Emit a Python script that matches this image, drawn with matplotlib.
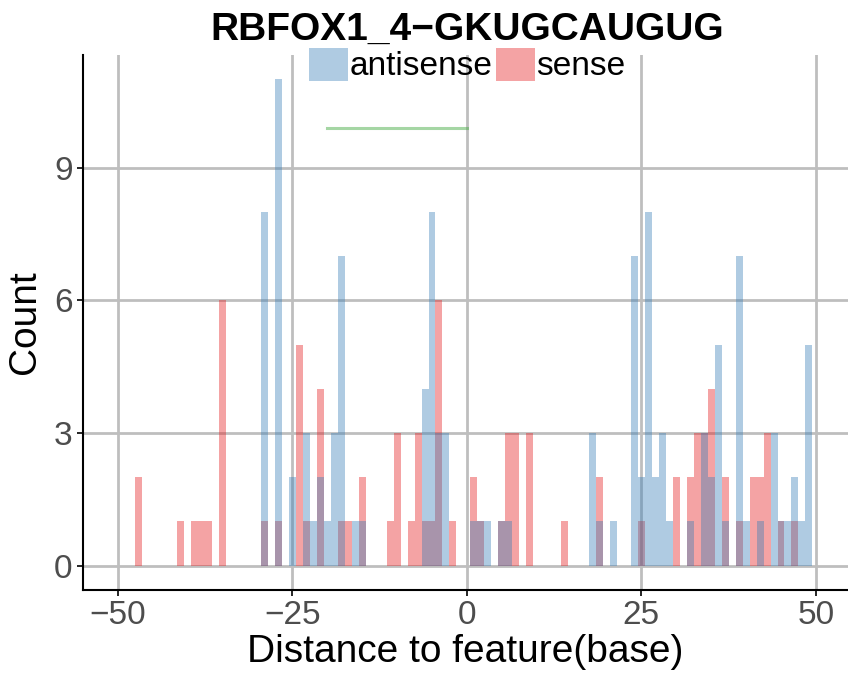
import matplotlib
matplotlib.use("Agg")
import matplotlib.pyplot as plt
from matplotlib.patches import Patch

plt.rcParams['font.family'] = ['Liberation Sans', 'DejaVu Sans']

# counts per 1-base bin
antisense_pos = [-29, -27, -25, -23, -22, -21, -20, -19, -18, -16, -15,
                 -6, -5, -4, -3, 1, 2, 3, 5, 6, 18, 19, 21, 24, 25, 26,
                 27, 28, 29, 32, 34, 35, 36, 37, 39, 40, 42, 44, 45, 46,
                 47, 48, 49]
antisense_cnt = [8, 11, 2, 3, 1, 2, 1, 3, 7, 1, 1,
                 4, 8, 3, 3, 1, 1, 1, 1, 1, 3, 1, 1, 7, 2, 8,
                 2, 3, 1, 1, 3, 2, 5, 1, 7, 1, 1, 3, 1, 1,
                 2, 1, 5]
sense_pos = [-47, -41, -39, -38, -37, -35, -29, -27, -24, -23, -21, -18,
             -17, -15, -11, -10, -8, -7, -6, -5, -4, -2, 1, 2, 5, 6, 7,
             9, 14, 19, 25, 30, 32, 33, 34, 35, 37, 39, 41, 42, 43, 45, 47]
sense_cnt = [2, 1, 1, 1, 1, 6, 1, 1, 5, 1, 4, 1,
             1, 2, 1, 3, 1, 3, 1, 1, 6, 1, 2, 1, 1, 3, 3,
             3, 1, 2, 1, 2, 2, 3, 3, 4, 2, 1, 2, 2, 3, 1, 1]
motif_x = [-20, 0]
motif_y = [9.9, 9.9]

blue = '#377EB8'
red = '#E41A1C'
green = '#4DAF4A'

fig = plt.figure(figsize=(8.48, 6.78), dpi=100)
ax = fig.add_axes([83/848, 88/678, 1 - 83/848, (590-55)/678])

ax.bar(sense_pos, sense_cnt, width=1, color=red, alpha=0.4, linewidth=0, zorder=2)
ax.bar(antisense_pos, antisense_cnt, width=1, color=blue, alpha=0.4, linewidth=0, zorder=3)
ax.plot(motif_x, motif_y, color=green, alpha=0.5, lw=2.2, zorder=4)

ax.set_xlim(-55, 54.6)
ax.set_ylim(-0.55, 11.55)
ax.set_xticks([-50, -25, 0, 25, 50])
ax.set_yticks([0, 3, 6, 9])
ax.grid(True, color='#bebebe', lw=2.0, zorder=0)
ax.set_axisbelow(True)
for s in ['top', 'right']:
    ax.spines[s].set_visible(False)
for s in ['left', 'bottom']:
    ax.spines[s].set_linewidth(1.5)
ax.tick_params(labelsize=24, colors='black', labelcolor='#4d4d4d', width=1.2, length=4.5, pad=3)
ax.set_xlabel('Distance to feature(base)', fontsize=28, labelpad=2)
ax.set_ylabel('Count', fontsize=28, labelpad=8)

fig.text(467/848, 1 - 30/678, 'RBFOX1_4\u2212GKUGCAUGUG', fontsize=28, fontweight='bold',
         ha='center', va='center')

handles = [Patch(facecolor=blue, alpha=0.4, linewidth=0), Patch(facecolor=red, alpha=0.4, linewidth=0)]
fig.legend(handles, ['antisense', 'sense'], loc='center', bbox_to_anchor=(467/848, 1 - 65/678),
           ncol=2, frameon=False, fontsize=24, handlelength=1.17, handleheight=1.14,
           handletextpad=0.05, columnspacing=0.1, borderpad=0, borderaxespad=0)

fig.savefig('out.png', dpi=100)
